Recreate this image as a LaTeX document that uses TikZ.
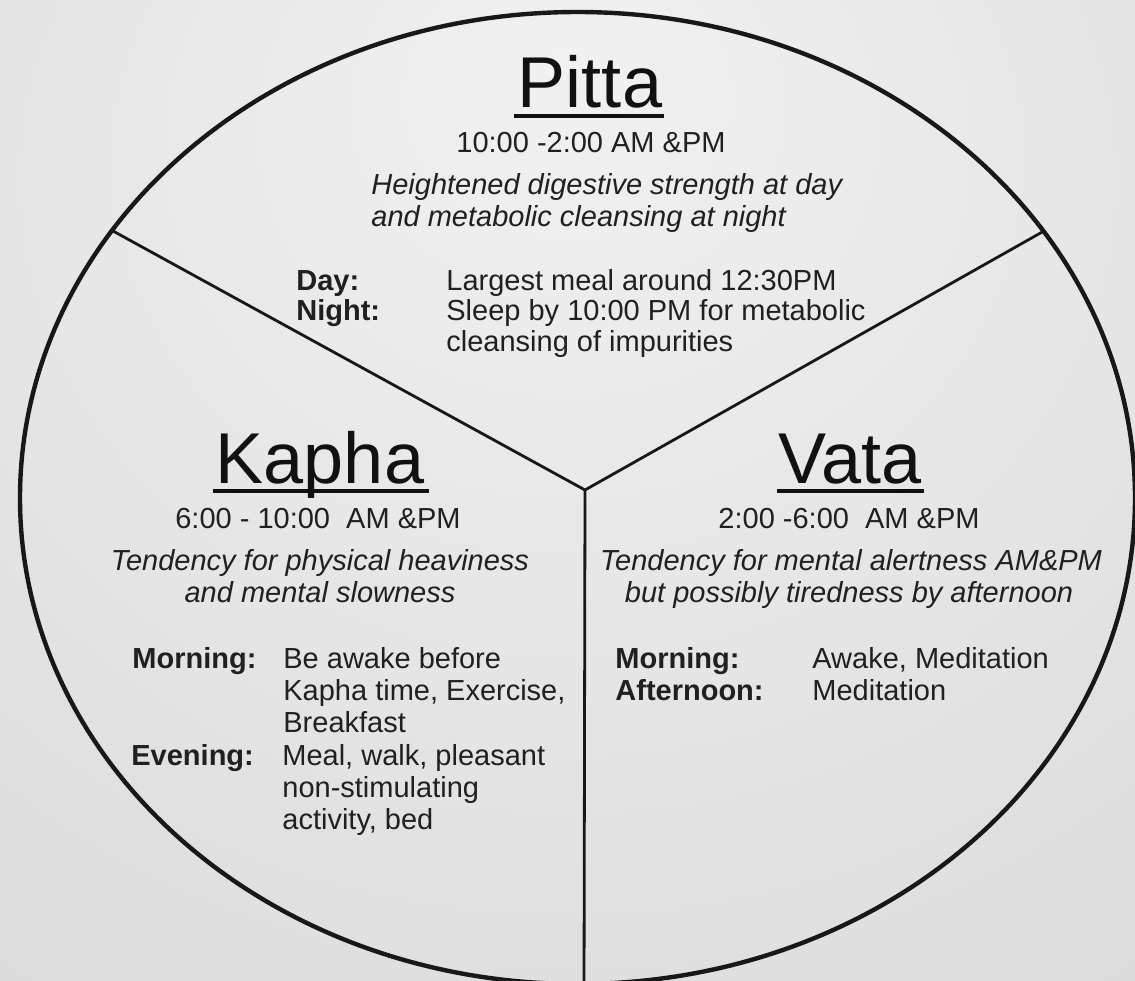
\documentclass[tikz,border=0pt]{standalone}
\usepackage{fontspec}
\setmainfont{Liberation Sans}
\definecolor{bgA}{HTML}{F1F1F1}
\definecolor{bgB}{HTML}{DFDEDE}
\definecolor{bgC}{HTML}{BAB6B6}
\definecolor{ink}{HTML}{202020}
\definecolor{inkdark}{HTML}{111111}
\definecolor{lineink}{HTML}{181818}
\pgfdeclareradialshading{paper}{\pgfpoint{0bp}{22bp}}{color(0bp)=(bgA); color(40bp)=(bgB); color(85bp)=(bgC)}
\begin{document}
\begin{tikzpicture}[x=0.5pt,y=-0.5pt,
  title/.style={font=\fontsize{36}{40}\selectfont, text=inkdark, inner sep=0pt, anchor=base},
  timetext/.style={font=\fontsize{14.5}{17}\selectfont, text=ink, inner sep=0pt, anchor=base},
  desc/.style={font=\fontsize{14.5}{17}\selectfont\itshape, text=ink, inner sep=0pt, anchor=base},
  lab/.style={font=\fontsize{14.5}{17}\selectfont\bfseries, text=ink, inner sep=0pt, anchor=base west},
  val/.style={font=\fontsize{14.5}{17}\selectfont, text=ink, inner sep=0pt, anchor=base west},
  ul/.style={line width=2pt, draw=inkdark},
  rim/.style={line width=2.2pt, draw=lineink},
  divider/.style={line width=1.4pt, draw=lineink}]

\useasboundingbox (0,0) rectangle (1135,980);
\clip (0,0) rectangle (1135,980);
\shade[shading=paper] (0,0) rectangle (1135,980);

% outer circle
\draw[rim] (577.5,498) ellipse [x radius=557.5, y radius=486];

% dividers
\coordinate (hub) at (585,490);
\coordinate (ulend) at (113,231);
\coordinate (urend) at (1044,231);
\coordinate (bot) at (584,995);
\draw[divider] (hub) -- (ulend);
\draw[divider] (hub) -- (urend);
\draw[divider] (hub) -- (bot);

% Pitta
\node[title] (pitta) at (590,107) {Pitta};
\draw[ul] ([xshift=-2pt,yshift=-4.5pt]pitta.base west) -- ([xshift=1pt,yshift=-4.5pt]pitta.base east);
\node[timetext] (pittatime) at (591,152) {10:00 -2:00 AM \&PM};
\node[desc, anchor=base west] (pittad1) at (371,194) {Heightened digestive strength at day};
\node[desc, anchor=base west] (pittad2) at (371,226) {and metabolic cleansing at night};
\node[lab] (pday) at (296,290) {Day:};
\node[lab] (pnight) at (296,320) {Night:};
\node[val] (pdayv) at (446,290) {Largest meal around 12:30PM};
\node[val] (pnightv) at (446,320) {Sleep by 10:00 PM for metabolic};
\node[val] (pnightv2) at (446,351) {cleansing of impurities};

% Kapha
\node[title] (kapha) at (320,483) {Kapha};
\draw[ul] ([xshift=-1.5pt,yshift=-4pt]kapha.base west) -- ([xshift=2pt,yshift=-4pt]kapha.base east);
\node[timetext] (kaphatime) at (318,528) {6:00 - 10:00\ \ AM \&PM};
\node[desc] (kaphad1) at (320,570) {Tendency for physical heaviness};
\node[desc] (kaphad2) at (320,602) {and mental slowness};
\node[lab] (kmorn) at (132,668) {Morning:};
\node[val] (kmornv1) at (283,668) {Be awake before};
\node[val] (kmornv2) at (283,700) {Kapha time, Exercise,};
\node[val] (kmornv3) at (283,732) {Breakfast};
\node[lab] (keve) at (131,765) {Evening:};
\node[val] (kevev1) at (282,765) {Meal, walk, pleasant};
\node[val] (kevev2) at (282,797) {non-stimulating};
\node[val] (kevev3) at (282,829) {activity, bed};

% Vata
\node[title] (vata) at (850,483) {Vata};
\draw[ul] ([xshift=-0.5pt,yshift=-4pt]vata.base west) -- ([xshift=1pt,yshift=-4pt]vata.base east);
\node[timetext] (vatatime) at (849,528) {2:00 -6:00\ \ AM \&PM};
\node[desc] (vatad1) at (851,570) {Tendency for mental alertness AM\&PM};
\node[desc] (vatad2) at (849,602) {but possibly tiredness by afternoon};
\node[lab] (vmorn) at (615,668) {Morning:};
\node[val] (vmornv) at (812,668) {Awake, Meditation};
\node[lab] (vaft) at (615,700) {Afternoon:};
\node[val] (vaftv) at (812,700) {Meditation};
\end{tikzpicture}
\end{document}
